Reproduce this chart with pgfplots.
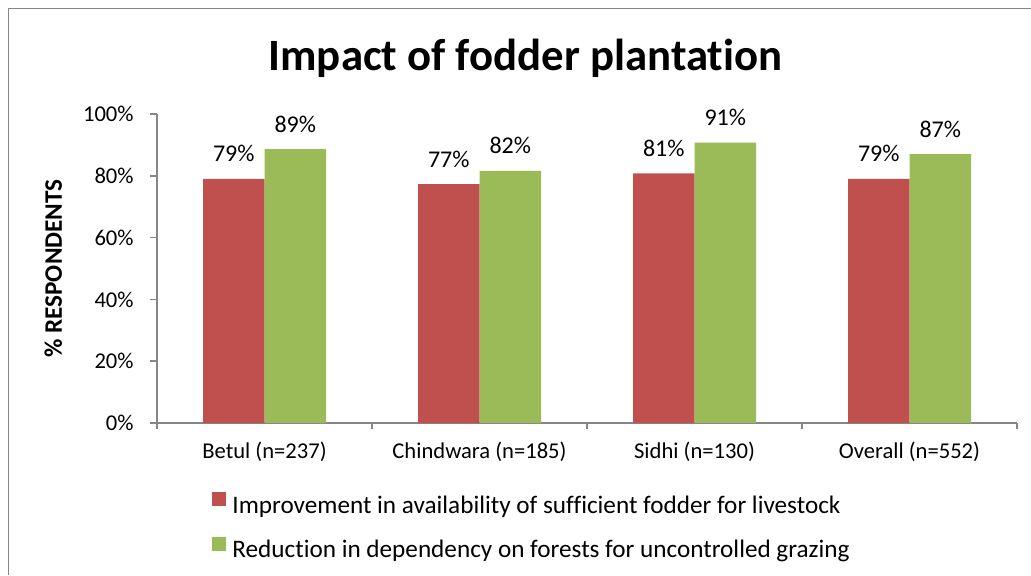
\documentclass[border=0pt]{standalone}
\usepackage{pgfplots}
\pgfplotsset{compat=1.18}
\usepackage{pgfplotstable}
\usepackage{fontspec}
\setmainfont{Carlito}[RawFeature={-liga}]
\definecolor{barred}{HTML}{C0504D}
\definecolor{bargreen}{HTML}{9BBB59}
\definecolor{axgray}{HTML}{868686}
\pgfplotstableread{
x red redlab green greenlab
0 79.0 79 88.6 89
1 77.3 77 81.6 82
2 80.8 81 90.7 91
3 79.0 79 87.0 87
}\datatable
\begin{document}
\begin{tikzpicture}[x=1pt,y=1pt]
\useasboundingbox (0,0) rectangle (515.5,287.5);
\draw[axgray, line width=0.75pt] (4.25,0) -- (4.25,283.25) -- (515.5,283.25);
\node[font=\fontsize{22.4}{26}\selectfont\bfseries, anchor=base, inner sep=0pt] at (262.75,252.15) {Impact of fodder plantation};
\begin{axis}[
  at={(78.5pt,76pt)}, anchor=south west,
  scale only axis, width=430pt, height=154.5pt,
  xmin=-0.5, xmax=3.5, ymin=0, ymax=100,
  axis x line*=bottom, axis y line*=left,
  axis line style={axgray, line width=0.75pt},
  every tick/.style={axgray, line width=0.75pt},
  tick align=outside,
  major tick length=3.5pt, minor tick length=3pt,
  xtick={0,1,2,3},
  xticklabels={Betul (n=237), Chindwara (n=185), Sidhi (n=130), Overall (n=552)},
  major x tick style={draw=none},
  minor xtick={-0.5,0.5,1.5,2.5,3.5},
  ytick={0,20,40,60,80,100},
  yticklabels={0\%,20\%,40\%,60\%,80\%,100\%},
  tick label style={font=\fontsize{11.3}{14}\selectfont, text=black},
  xticklabel style={anchor=base, inner sep=0pt, yshift=-14pt},
  yticklabel style={anchor=east, inner sep=0pt, xshift=-8pt},
  ylabel={\% RESPONDENTS},
  ylabel style={font=\fontsize{12.6}{14}\selectfont\bfseries, at={(axis description cs:-0.1105,0.5)}, anchor=base, inner sep=0pt},
  ybar=0pt, bar width=30.75pt,
  nodes near coords={\pgfmathprintnumber[assume math mode=true]{\pgfplotspointmeta}\%},
  point meta=explicit,
  every node near coord/.append style={font=\fontsize{12}{14}\selectfont, text=black, anchor=base, yshift=8.5pt, inner sep=0pt},
  legend style={at={(axis description cs:0.064,-0.223)}, anchor=north west, draw=none, fill=none, inner sep=0pt,
    font=\fontsize{12.6}{15}\selectfont, row sep=10pt, nodes={inner sep=0pt}},
  legend cell align=left,
  legend image code/.code={\fill[#1, draw=none] (0pt,0pt) rectangle (7pt,7pt);},
]
\addplot[fill=barred, draw=none] table[x=x, y=red, meta=redlab] {\datatable};
\addplot[fill=bargreen, draw=none] table[x=x, y=green, meta=greenlab] {\datatable};
\legend{\hspace{3pt}Improvement in availability of sufficient fodder for livestock, \hspace{3pt}Reduction in dependency on forests for uncontrolled grazing}
\end{axis}
\end{tikzpicture}
\end{document}
